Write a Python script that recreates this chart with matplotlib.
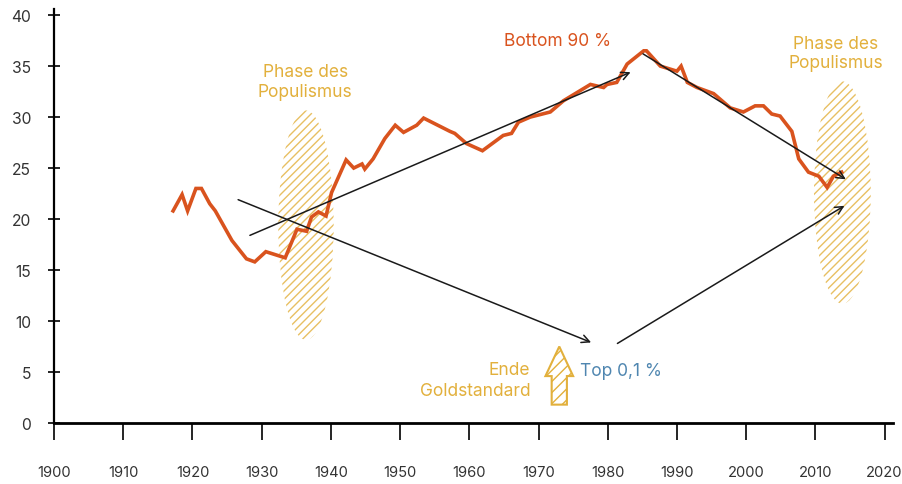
import matplotlib.pyplot as plt
from matplotlib.patches import Ellipse, FancyArrow

plt.rcParams['font.family'] = ['Inter', 'DejaVu Sans']
plt.rcParams['hatch.linewidth'] = 1.0

# Bottom 90 % income share
years = [1917.2, 1918.5, 1919.3, 1920.5, 1921.3, 1922.5, 1923.3, 1925.7, 1927.8, 1929.0,
         1930.6, 1933.4, 1935.1, 1936.5, 1937.2, 1938.2, 1939.3, 1940.1, 1942.2, 1943.3,
         1944.5, 1944.9, 1946.1, 1947.8, 1949.3, 1950.5, 1952.4, 1953.4, 1957.2, 1957.9,
         1959.6, 1961.9, 1964.9, 1966.1, 1967.1, 1968.8, 1971.7, 1973.6, 1977.5, 1979.4,
         1979.9, 1981.3, 1982.8, 1985.2, 1985.6, 1987.6, 1990.0, 1990.6, 1991.5, 1992.9,
         1995.3, 1997.7, 1999.6, 2001.3, 2002.5, 2003.7, 2004.9, 2006.6, 2007.6, 2009.0,
         2010.5, 2011.7, 2012.6, 2013.8]
bottom90 = [20.8, 22.4, 20.8, 23.0, 23.0, 21.5, 20.8, 17.9, 16.1, 15.8,
            16.8, 16.2, 19.0, 18.8, 20.2, 20.7, 20.3, 22.6, 25.8, 25.0,
            25.4, 24.9, 25.9, 27.9, 29.2, 28.5, 29.2, 29.9, 28.6, 28.4,
            27.4, 26.7, 28.2, 28.4, 29.5, 30.0, 30.5, 31.6, 33.2, 32.9,
            33.2, 33.4, 35.2, 36.5, 36.5, 35.0, 34.5, 35.0, 33.4, 32.9,
            32.3, 30.9, 30.5, 31.1, 31.1, 30.3, 30.1, 28.6, 25.9, 24.6,
            24.2, 23.1, 24.2, 24.6]

# sketched trend arrows: (x0, y0, x1, y1)
trend_arrows = [
    (1928.3, 18.4, 1983.3, 34.4),
    (1926.6, 21.9, 1977.6, 7.9),
    (1981.4, 7.8, 2014.2, 21.3),
    (1985.1, 36.2, 2014.4, 23.9),
]

# populism phases: (center year, center value, width, height)
phases = [(1936.4, 19.4, 8.0, 22.5), (2013.9, 22.6, 8.2, 21.8)]

gold = '#e2b03c'
orange = '#d9531e'
blue = '#4f86b0'

fig = plt.figure(figsize=(9.02, 4.85), dpi=100)
ax = fig.add_axes([0.0599, 0.1258, 0.930, 0.8536])

for cx, cy, w, h in phases:
    e = Ellipse((cx, cy), w, h, facecolor='none', edgecolor=gold, lw=0,
                hatch='////', alpha=0.8)
    ax.add_patch(e)

ax.plot(years, bottom90, color=orange, lw=2.6, solid_joinstyle='miter', zorder=3)

for x0, y0, x1, y1 in trend_arrows:
    ax.annotate('', xy=(x1, y1), xytext=(x0, y0),
                arrowprops=dict(arrowstyle='->', color='#1a1a1a', lw=1.1,
                                mutation_scale=14, shrinkA=0, shrinkB=0),
                zorder=4)

arr = FancyArrow(1973.0, 1.8, 0, 5.7, width=2.2, head_width=4.0, head_length=2.9,
                 length_includes_head=True, facecolor='none', edgecolor=gold,
                 lw=1.5, hatch='///')
ax.add_patch(arr)

fs = 12.5
ax.text(1936.3, 33.5, 'Phase des\nPopulismus', color=gold, fontsize=fs,
        ha='center', va='center', linespacing=1.2)
ax.text(2012.9, 36.3, 'Phase des\nPopulismus', color=gold, fontsize=fs,
        ha='center', va='center', linespacing=1.2)
ax.text(1972.8, 37.5, 'Bottom 90 %', color=orange, fontsize=fs, ha='center', va='center')
ax.text(1976.0, 5.1, 'Top 0,1 %', color=blue, fontsize=fs, ha='left', va='center')
ax.text(1968.8, 4.2, 'Ende\nGoldstandard', color=gold, fontsize=fs,
        ha='right', va='center', linespacing=1.3)

ax.set_xlim(1900, 2021.2)
ax.set_ylim(0, 40.6)
ax.set_xticks(range(1900, 2021, 10))
ax.set_yticks(range(0, 41, 5))
ax.spines['top'].set_visible(False)
ax.spines['right'].set_visible(False)
ax.spines['left'].set_linewidth(1.6)
ax.spines['bottom'].set_linewidth(2.0)
ax.spines['bottom'].set_bounds(1900, 2021.2)
ax.tick_params(axis='x', direction='out', length=12, width=1.2, pad=18,
               labelsize=10.6, labelcolor='#333333')
ax.tick_params(axis='y', direction='inout', length=9, width=1.2, pad=12,
               labelsize=11.3, labelcolor='#333333')

fig.savefig('out.png', dpi=100)
